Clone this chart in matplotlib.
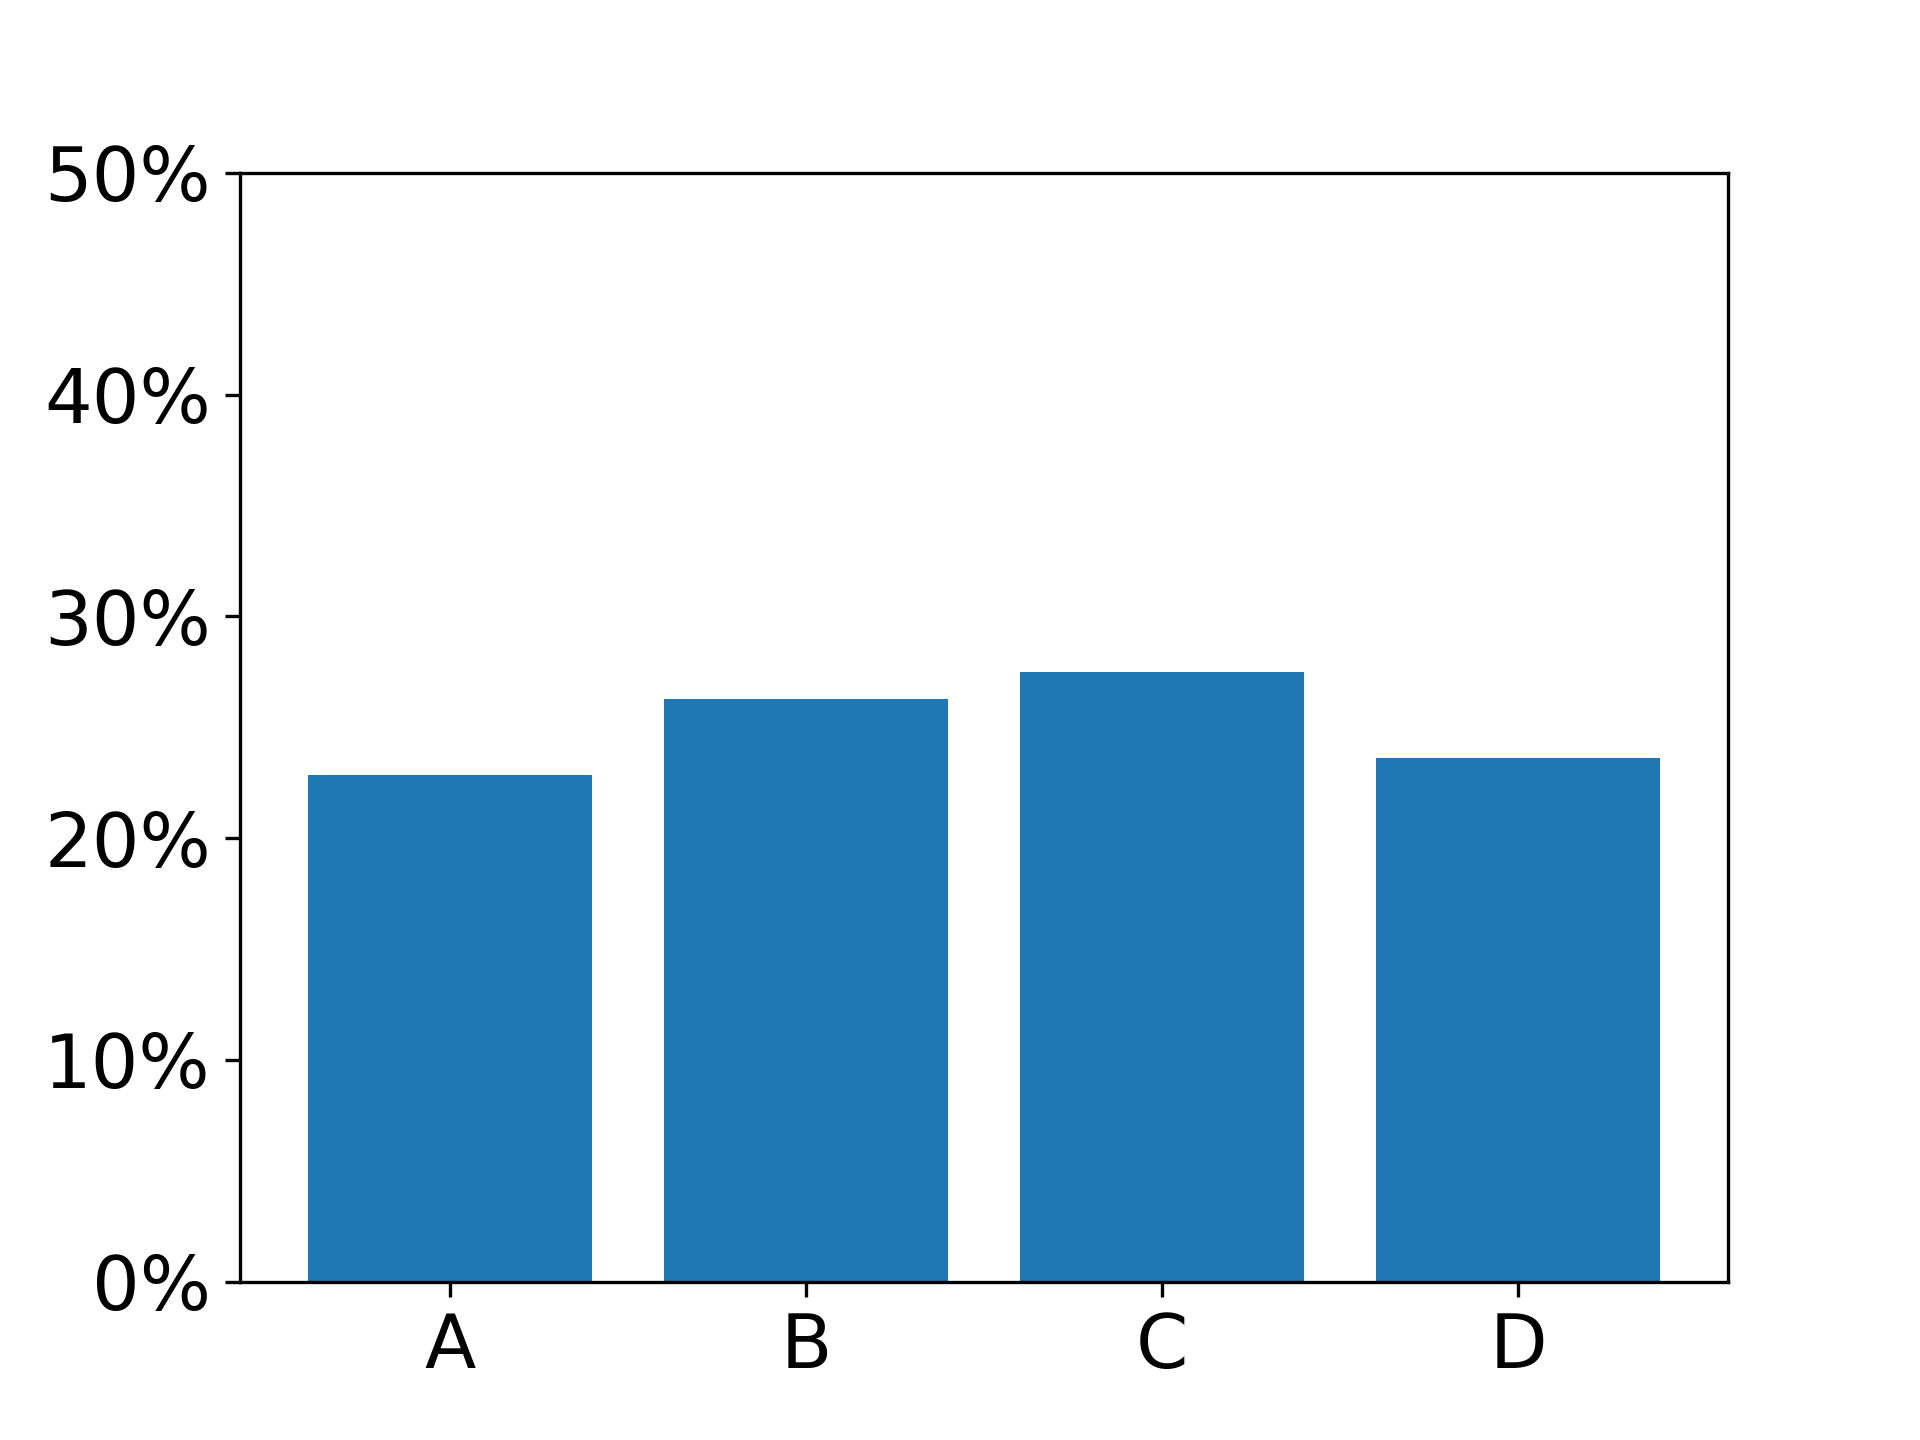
import matplotlib
matplotlib.use('Agg')
import matplotlib.pyplot as plt
from matplotlib.ticker import PercentFormatter

# share of each group
labels = ['A', 'B', 'C', 'D']
shares = [0.2285, 0.2626, 0.2748, 0.2360]

fig, ax = plt.subplots(figsize=(6.4, 4.8), dpi=300)
ax.bar(labels, shares)
ax.set_ylim(0, 0.5)
ax.yaxis.set_major_formatter(PercentFormatter(1.0, decimals=0))
ax.tick_params(axis='both', labelsize=18)

fig.savefig('out.png', dpi=300)
